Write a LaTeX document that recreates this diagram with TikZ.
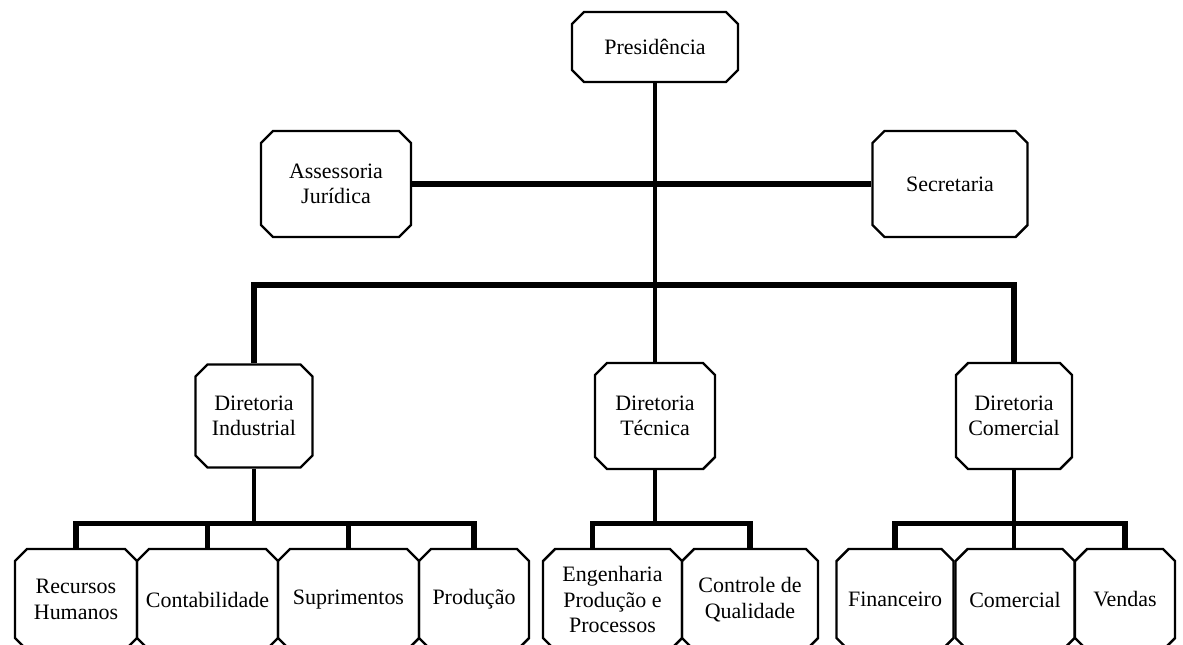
\documentclass[tikz,border=0pt]{standalone}
\usepackage{fontspec}
\setmainfont{Liberation Serif}
\usetikzlibrary{shapes.misc}

\begin{document}
\begin{tikzpicture}[
    unit/.style={draw, line width=1.4pt, chamfered rectangle, chamfered rectangle sep=0.12cm,
      inner sep=1pt, align=center, font=\fontsize{12.5}{14.5}\selectfont},
    link/.style={line width=2.3pt, line join=miter},
    bus/.style={line width=3pt, line join=miter}
  ]
    \useasboundingbox (0,0) rectangle (23.66,-12.9);
    % top level
    \node[unit, minimum width=3.32cm, minimum height=1.4cm] (pres) at (13.1,-0.94) {Presidência};
    \node[unit, minimum width=3.0cm, minimum height=2.12cm] (ass) at (6.72,-3.68) {Assessoria\\Jurídica};
    \node[unit, minimum width=3.1cm, minimum height=2.12cm] (sec) at (19.0,-3.68) {Secretaria};
    % directors
    \node[unit, minimum width=2.34cm, minimum height=2.06cm] (dind) at (5.08,-8.32) {Diretoria\\Industrial};
    \node[unit, minimum width=2.4cm, minimum height=2.12cm] (dtec) at (13.1,-8.32) {Diretoria\\Técnica};
    \node[unit, minimum width=2.32cm, minimum height=2.12cm] (dcom) at (20.28,-8.32) {Diretoria\\Comercial};
    % departments
    \node[unit, minimum width=2.44cm, minimum height=2.02cm] (rh) at (1.52,-11.99) {Recursos\\Humanos};
    \node[unit, minimum width=2.82cm, minimum height=2.02cm] (cont) at (4.15,-11.99) {Contabilidade};
    \node[unit, minimum width=2.82cm, minimum height=2.02cm] (sup) at (6.97,-11.99) {Suprimentos};
    \node[unit, minimum width=2.2cm, minimum height=2.02cm] (prod) at (9.48,-11.99) {Produção};
    \node[unit, minimum width=2.78cm, minimum height=2.02cm] (eng) at (12.25,-11.99) {Engenharia\\Produção e\\Processos};
    \node[unit, minimum width=2.72cm, minimum height=2.02cm] (cq) at (15.0,-11.99) {Controle de\\Qualidade};
    \node[unit, minimum width=2.34cm, minimum height=2.02cm] (fin) at (17.9,-11.99) {Financeiro};
    \node[unit, minimum width=2.38cm, minimum height=2.02cm] (com) at (20.3,-11.99) {Comercial};
    \node[unit, minimum width=2.0cm, minimum height=2.02cm] (ven) at (22.5,-11.99) {Vendas};
    % connectors
    \coordinate (hub) at (13.1,-5.7);
    \draw[link] (pres.south) -- (dtec.north);
    \draw[bus] (ass.east) -- (sec.west);
    \draw[bus] (dind.north) |- (hub) -| (dcom.north);
    \draw[link] (dind.south) -- (dind.south |- 0,-10.5);
    \draw[bus] (rh.north) -- ++(0,0.48) -| (prod.north);
    \draw[link] (cont.north) -- ++(0,0.48);
    \draw[link] (sup.north) -- ++(0,0.48);
    \draw[link] (dtec.south) -- (dtec.south |- 0,-10.5);
    \draw[bus] ([xshift=-0.4cm]eng.north) -- ++(0,0.48) -| (cq.north);
    \draw[link] (dcom.south) -- (dcom.south |- com.north);
    \draw[bus] (fin.north) -- ++(0,0.48) -| (ven.north);
\end{tikzpicture}
\end{document}
